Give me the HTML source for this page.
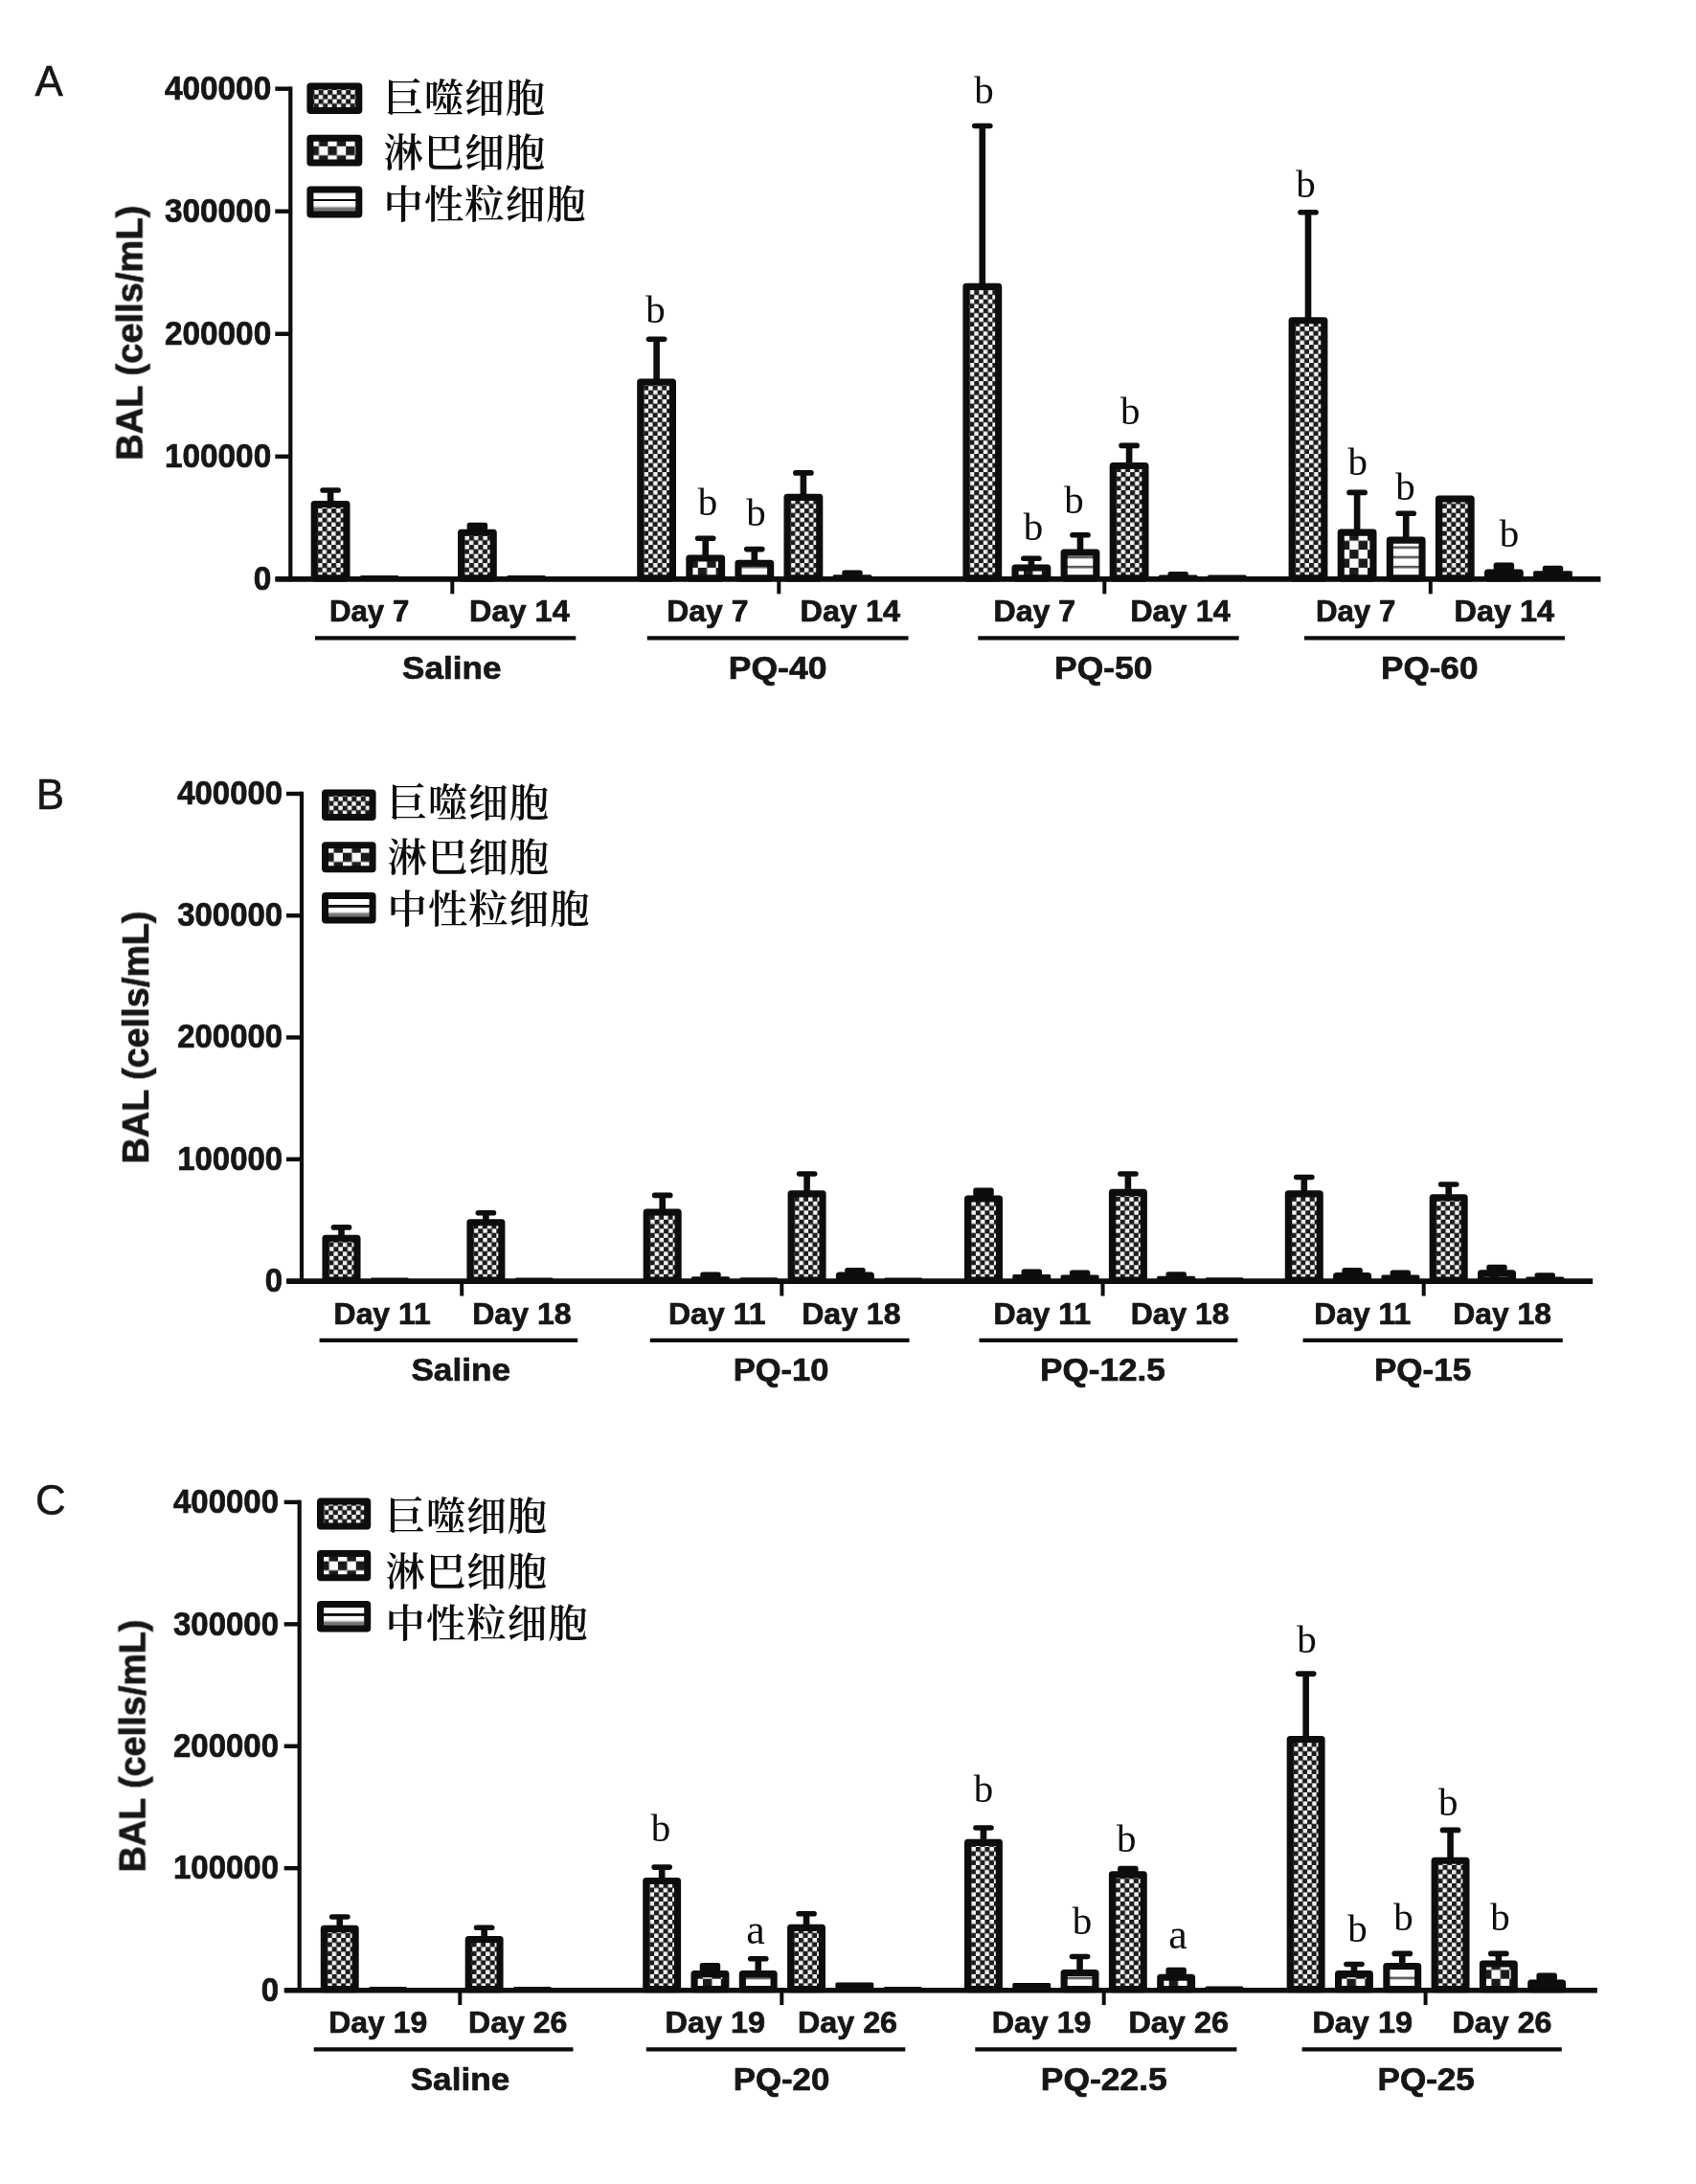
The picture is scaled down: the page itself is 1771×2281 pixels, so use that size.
<!DOCTYPE html>
<html lang="zh">
<head>
<meta charset="utf-8">
<title>BAL cell counts</title>
<style>
html,body{margin:0;padding:0;background:#fff;}
body{width:1771px;height:2281px;overflow:hidden;}
svg{display:block;}
text{white-space:pre;}
</style>
</head>
<body>
<svg width="1771" height="2281" viewBox="0 0 1771 2281">
<defs>
<filter id="soft2" x="0" y="0" width="1771" height="2281" filterUnits="userSpaceOnUse"><feGaussianBlur stdDeviation="0.35"/></filter>
<filter id="soft" x="0" y="0" width="1771" height="2281" filterUnits="userSpaceOnUse"><feGaussianBlur stdDeviation="0.75"/></filter>
<pattern id="pM" patternUnits="userSpaceOnUse" width="9.5" height="9.5" x="2.4" y="2.3">
<rect width="9.5" height="9.5" fill="#f2f2f2"/><rect x="-0.3" y="-0.3" width="5.35" height="5.35" fill="#1b1b1b"/><rect x="4.45" y="4.45" width="5.35" height="5.35" fill="#1b1b1b"/><rect x="9.2" y="9.2" width="0.3" height="0.3" fill="#1b1b1b"/>
</pattern>
<pattern id="pL" patternUnits="userSpaceOnUse" width="18.8" height="18.8" x="12.5" y="6.9">
<rect width="18.8" height="18.8" fill="#fbfbfb"/><rect width="9.4" height="9.4" fill="#1b1b1b"/><rect x="9.4" y="9.4" width="9.4" height="9.4" fill="#1b1b1b"/>
</pattern>
<pattern id="pMs" patternUnits="userSpaceOnUse" width="9.5" height="9.5" x="2.8" y="3.6">
<rect width="9.5" height="9.5" fill="#f2f2f2"/><rect x="-0.3" y="-0.3" width="5.35" height="5.35" fill="#1b1b1b"/><rect x="4.45" y="4.45" width="5.35" height="5.35" fill="#1b1b1b"/><rect x="9.2" y="9.2" width="0.3" height="0.3" fill="#1b1b1b"/>
</pattern>
<pattern id="pLs" patternUnits="userSpaceOnUse" width="18.8" height="18.8" x="3.2" y="17">
<rect width="18.8" height="18.8" fill="#fbfbfb"/><rect width="9.4" height="9.4" fill="#1b1b1b"/><rect x="9.4" y="9.4" width="9.4" height="9.4" fill="#1b1b1b"/>
</pattern>
<pattern id="pN" patternUnits="userSpaceOnUse" width="10" height="10.15" y="6.3">
<rect width="10" height="10.15" fill="#fcfcfc"/><rect y="0" width="10" height="2.6" fill="#5a5a5a"/>
</pattern>
<linearGradient id="lgN" x1="0" y1="0" x2="0" y2="1">
<stop offset="0" stop-color="#fff"/><stop offset="0.375" stop-color="#fff"/><stop offset="0.38" stop-color="#111"/><stop offset="0.47" stop-color="#111"/>
<stop offset="0.475" stop-color="#fff"/><stop offset="0.65" stop-color="#fdfdfd"/><stop offset="0.76" stop-color="#6e6e6e"/><stop offset="0.87" stop-color="#808080"/><stop offset="1" stop-color="#808080"/>
</linearGradient>
</defs>
<rect width="1771" height="2281" fill="#fff"/>
<g filter="url(#soft)">
<g>
<text x="51.15" y="99.6" font-family='"Liberation Sans", Arial, sans-serif' font-size="44" font-weight="normal" fill="#141414" text-anchor="middle" stroke="#141414" stroke-width="0.5">A</text>
<text transform="translate(148.6,480.8) rotate(-90)" font-family='"Liberation Sans", Arial, sans-serif' font-size="38.5" font-weight="bold" fill="#141414" stroke="#141414" stroke-width="0.7" textLength="266.2" lengthAdjust="spacingAndGlyphs">BAL (cells/mL)</text>
<text x="171.9" y="104" font-family='"Liberation Sans", Arial, sans-serif' font-size="34.5" font-weight="bold" fill="#141414" text-anchor="start" stroke="#141414" stroke-width="0.7" stroke-linejoin="round" textLength="111.3" lengthAdjust="spacingAndGlyphs">400000</text>
<line x1="287.3" y1="92.7" x2="303.3" y2="92.7" stroke="#0d0d0d" stroke-width="4.4"/>
<text x="171.9" y="232.02" font-family='"Liberation Sans", Arial, sans-serif' font-size="34.5" font-weight="bold" fill="#141414" text-anchor="start" stroke="#141414" stroke-width="0.7" stroke-linejoin="round" textLength="111.3" lengthAdjust="spacingAndGlyphs">300000</text>
<line x1="287.3" y1="220.72" x2="303.3" y2="220.72" stroke="#0d0d0d" stroke-width="4.4"/>
<text x="171.9" y="360.05" font-family='"Liberation Sans", Arial, sans-serif' font-size="34.5" font-weight="bold" fill="#141414" text-anchor="start" stroke="#141414" stroke-width="0.7" stroke-linejoin="round" textLength="111.3" lengthAdjust="spacingAndGlyphs">200000</text>
<line x1="287.3" y1="348.75" x2="303.3" y2="348.75" stroke="#0d0d0d" stroke-width="4.4"/>
<text x="171.9" y="488.07" font-family='"Liberation Sans", Arial, sans-serif' font-size="34.5" font-weight="bold" fill="#141414" text-anchor="start" stroke="#141414" stroke-width="0.7" stroke-linejoin="round" textLength="111.3" lengthAdjust="spacingAndGlyphs">100000</text>
<line x1="287.3" y1="476.77" x2="303.3" y2="476.77" stroke="#0d0d0d" stroke-width="4.4"/>
<text x="264.65" y="616.1" font-family='"Liberation Sans", Arial, sans-serif' font-size="34.5" font-weight="bold" fill="#141414" text-anchor="start" stroke="#141414" stroke-width="0.7" stroke-linejoin="round" textLength="18.55" lengthAdjust="spacingAndGlyphs">0</text>
<line x1="287.3" y1="604.8" x2="303.3" y2="604.8" stroke="#0d0d0d" stroke-width="4.4"/>
<g transform="translate(324.7,604.8)">
<line x1="20.4" y1="-92.8" x2="20.4" y2="-79.8" stroke="#0d0d0d" stroke-width="6.6"/>
<line x1="12.35" y1="-92.8" x2="28.45" y2="-92.8" stroke="#0d0d0d" stroke-width="5.6" stroke-linecap="round"/>
<rect x="3.55" y="-78.25" width="33.7" height="77.3" fill="url(#pM)" stroke="#0d0d0d" stroke-width="7.1" stroke-linejoin="round"/>
</g>
<g transform="translate(375.8,604.8)">
<rect x="0" y="-3.8" width="40.8" height="5.8" rx="1.5" fill="#0d0d0d"/>
</g>
<g transform="translate(478,604.8)">
<rect x="9.65" y="-59.1" width="21.5" height="8.5" rx="2.6" fill="#0d0d0d"/>
<rect x="3.55" y="-48.55" width="33.7" height="47.6" fill="url(#pM)" stroke="#0d0d0d" stroke-width="7.1" stroke-linejoin="round"/>
</g>
<g transform="translate(529.1,604.8)">
<rect x="0" y="-3.8" width="40.8" height="5.8" rx="1.5" fill="#0d0d0d"/>
</g>
<g transform="translate(665.2,604.8)">
<line x1="20.4" y1="-250.6" x2="20.4" y2="-207.3" stroke="#0d0d0d" stroke-width="6.6"/>
<line x1="12.35" y1="-250.6" x2="28.45" y2="-250.6" stroke="#0d0d0d" stroke-width="5.6" stroke-linecap="round"/>
<rect x="3.55" y="-205.75" width="33.7" height="204.8" fill="url(#pM)" stroke="#0d0d0d" stroke-width="7.1" stroke-linejoin="round"/>
</g>
<g transform="translate(716.3,604.8)">
<line x1="20.4" y1="-42.5" x2="20.4" y2="-23.3" stroke="#0d0d0d" stroke-width="6.6"/>
<line x1="12.35" y1="-42.5" x2="28.45" y2="-42.5" stroke="#0d0d0d" stroke-width="5.6" stroke-linecap="round"/>
<rect x="3.55" y="-21.75" width="33.7" height="20.8" fill="url(#pL)" stroke="#0d0d0d" stroke-width="7.1" stroke-linejoin="round"/>
</g>
<g transform="translate(767.4,604.8)">
<line x1="20.4" y1="-31.2" x2="20.4" y2="-18.1" stroke="#0d0d0d" stroke-width="6.6"/>
<line x1="12.35" y1="-31.2" x2="28.45" y2="-31.2" stroke="#0d0d0d" stroke-width="5.6" stroke-linecap="round"/>
<rect x="3.55" y="-16.55" width="33.7" height="15.6" fill="url(#pN)" stroke="#0d0d0d" stroke-width="7.1" stroke-linejoin="round"/>
</g>
<g transform="translate(818.5,604.8)">
<line x1="20.4" y1="-110.9" x2="20.4" y2="-87" stroke="#0d0d0d" stroke-width="6.6"/>
<line x1="12.35" y1="-110.9" x2="28.45" y2="-110.9" stroke="#0d0d0d" stroke-width="5.6" stroke-linecap="round"/>
<rect x="3.55" y="-85.45" width="33.7" height="84.5" fill="url(#pM)" stroke="#0d0d0d" stroke-width="7.1" stroke-linejoin="round"/>
</g>
<g transform="translate(869.6,604.8)">
<rect x="9.65" y="-9.4" width="21.5" height="6.3" rx="2.6" fill="#0d0d0d"/>
<rect x="0" y="-4.6" width="40.8" height="6.6" rx="1.5" fill="#0d0d0d"/>
</g>
<g transform="translate(1005.4,604.8)">
<line x1="20.4" y1="-473.3" x2="20.4" y2="-307" stroke="#0d0d0d" stroke-width="6.6"/>
<line x1="12.35" y1="-473.3" x2="28.45" y2="-473.3" stroke="#0d0d0d" stroke-width="5.6" stroke-linecap="round"/>
<rect x="3.55" y="-305.45" width="33.7" height="304.5" fill="url(#pM)" stroke="#0d0d0d" stroke-width="7.1" stroke-linejoin="round"/>
</g>
<g transform="translate(1056.5,604.8)">
<line x1="20.4" y1="-21.5" x2="20.4" y2="-13.4" stroke="#0d0d0d" stroke-width="6.6"/>
<line x1="12.35" y1="-21.5" x2="28.45" y2="-21.5" stroke="#0d0d0d" stroke-width="5.6" stroke-linecap="round"/>
<rect x="3.55" y="-11.85" width="33.7" height="10.9" fill="url(#pL)" stroke="#0d0d0d" stroke-width="7.1" stroke-linejoin="round"/>
</g>
<g transform="translate(1107.6,604.8)">
<line x1="20.4" y1="-46" x2="20.4" y2="-29.4" stroke="#0d0d0d" stroke-width="6.6"/>
<line x1="12.35" y1="-46" x2="28.45" y2="-46" stroke="#0d0d0d" stroke-width="5.6" stroke-linecap="round"/>
<rect x="3.55" y="-27.85" width="33.7" height="26.9" fill="url(#pN)" stroke="#0d0d0d" stroke-width="7.1" stroke-linejoin="round"/>
</g>
<g transform="translate(1158.7,604.8)">
<line x1="20.4" y1="-139.4" x2="20.4" y2="-119.8" stroke="#0d0d0d" stroke-width="6.6"/>
<line x1="12.35" y1="-139.4" x2="28.45" y2="-139.4" stroke="#0d0d0d" stroke-width="5.6" stroke-linecap="round"/>
<rect x="3.55" y="-118.25" width="33.7" height="117.3" fill="url(#pM)" stroke="#0d0d0d" stroke-width="7.1" stroke-linejoin="round"/>
</g>
<g transform="translate(1209.8,604.8)">
<rect x="9.65" y="-7.8" width="21.5" height="5.1" rx="2.6" fill="#0d0d0d"/>
<rect x="0" y="-4.2" width="40.8" height="6.2" rx="1.5" fill="#0d0d0d"/>
</g>
<g transform="translate(1260.9,604.8)">
<rect x="0" y="-4.2" width="40.8" height="6.2" rx="1.5" fill="#0d0d0d"/>
</g>
<g transform="translate(1345.6,604.8)">
<line x1="20.4" y1="-383" x2="20.4" y2="-271.6" stroke="#0d0d0d" stroke-width="6.6"/>
<line x1="12.35" y1="-383" x2="28.45" y2="-383" stroke="#0d0d0d" stroke-width="5.6" stroke-linecap="round"/>
<rect x="3.55" y="-270.05" width="33.7" height="269.1" fill="url(#pM)" stroke="#0d0d0d" stroke-width="7.1" stroke-linejoin="round"/>
</g>
<g transform="translate(1396.7,604.8)">
<line x1="20.4" y1="-90.4" x2="20.4" y2="-50.2" stroke="#0d0d0d" stroke-width="6.6"/>
<line x1="12.35" y1="-90.4" x2="28.45" y2="-90.4" stroke="#0d0d0d" stroke-width="5.6" stroke-linecap="round"/>
<rect x="3.55" y="-48.65" width="33.7" height="47.7" fill="url(#pL)" stroke="#0d0d0d" stroke-width="7.1" stroke-linejoin="round"/>
</g>
<g transform="translate(1447.8,604.8)">
<line x1="20.4" y1="-68.5" x2="20.4" y2="-42.2" stroke="#0d0d0d" stroke-width="6.6"/>
<line x1="12.35" y1="-68.5" x2="28.45" y2="-68.5" stroke="#0d0d0d" stroke-width="5.6" stroke-linecap="round"/>
<rect x="3.55" y="-40.65" width="33.7" height="39.7" fill="url(#pN)" stroke="#0d0d0d" stroke-width="7.1" stroke-linejoin="round"/>
</g>
<g transform="translate(1498.9,604.8)">
<rect x="3.55" y="-83.75" width="33.7" height="82.8" fill="url(#pM)" stroke="#0d0d0d" stroke-width="7.1" stroke-linejoin="round"/>
</g>
<g transform="translate(1550,604.8)">
<rect x="9.65" y="-17.2" width="21.5" height="8.5" rx="2.6" fill="#0d0d0d"/>
<rect x="3.55" y="-6.65" width="33.7" height="5.7" fill="url(#pL)" stroke="#0d0d0d" stroke-width="7.1" stroke-linejoin="round"/>
</g>
<g transform="translate(1601.1,604.8)">
<rect x="9.65" y="-14" width="21.5" height="6.9" rx="2.6" fill="#0d0d0d"/>
<rect x="0" y="-8.6" width="40.8" height="10.6" rx="1.5" fill="#0d0d0d"/>
</g>
<line x1="303.3" y1="90.5" x2="303.3" y2="607.3" stroke="#0d0d0d" stroke-width="4.2"/>
<line x1="287.7" y1="604.9" x2="1671.4" y2="604.9" stroke="#0d0d0d" stroke-width="5.6"/>
<line x1="472.3" y1="604.8" x2="472.3" y2="620.3" stroke="#0d0d0d" stroke-width="4"/>
<line x1="813.3" y1="604.8" x2="813.3" y2="620.3" stroke="#0d0d0d" stroke-width="4"/>
<line x1="1153.3" y1="604.8" x2="1153.3" y2="620.3" stroke="#0d0d0d" stroke-width="4"/>
<line x1="1493.8" y1="604.8" x2="1493.8" y2="620.3" stroke="#0d0d0d" stroke-width="4"/>
<text x="343.9" y="649" font-family='"Liberation Sans", Arial, sans-serif' font-size="31" font-weight="bold" fill="#141414" text-anchor="start" stroke="#141414" stroke-width="0.7" stroke-linejoin="round" textLength="83.4" lengthAdjust="spacingAndGlyphs">Day 7</text>
<text x="490.1" y="649" font-family='"Liberation Sans", Arial, sans-serif' font-size="31" font-weight="bold" fill="#141414" text-anchor="start" stroke="#141414" stroke-width="0.7" stroke-linejoin="round" textLength="104.6" lengthAdjust="spacingAndGlyphs">Day 14</text>
<line x1="329" y1="666.3" x2="601.3" y2="666.3" stroke="#0d0d0d" stroke-width="4.2"/>
<text x="420.1" y="709.2" font-family='"Liberation Sans", Arial, sans-serif' font-size="34" font-weight="bold" fill="#141414" text-anchor="start" stroke="#141414" stroke-width="0.7" stroke-linejoin="round" textLength="103.4" lengthAdjust="spacingAndGlyphs">Saline</text>
<text x="696.3" y="649" font-family='"Liberation Sans", Arial, sans-serif' font-size="31" font-weight="bold" fill="#141414" text-anchor="start" stroke="#141414" stroke-width="0.7" stroke-linejoin="round" textLength="85.2" lengthAdjust="spacingAndGlyphs">Day 7</text>
<text x="835.5" y="649" font-family='"Liberation Sans", Arial, sans-serif' font-size="31" font-weight="bold" fill="#141414" text-anchor="start" stroke="#141414" stroke-width="0.7" stroke-linejoin="round" textLength="104.5" lengthAdjust="spacingAndGlyphs">Day 14</text>
<line x1="675.8" y1="666.3" x2="948.5" y2="666.3" stroke="#0d0d0d" stroke-width="4.2"/>
<text x="760.8" y="709.2" font-family='"Liberation Sans", Arial, sans-serif' font-size="34" font-weight="bold" fill="#141414" text-anchor="start" stroke="#141414" stroke-width="0.7" stroke-linejoin="round" textLength="102.6" lengthAdjust="spacingAndGlyphs">PQ-40</text>
<text x="1037.5" y="649" font-family='"Liberation Sans", Arial, sans-serif' font-size="31" font-weight="bold" fill="#141414" text-anchor="start" stroke="#141414" stroke-width="0.7" stroke-linejoin="round" textLength="85.7" lengthAdjust="spacingAndGlyphs">Day 7</text>
<text x="1180.2" y="649" font-family='"Liberation Sans", Arial, sans-serif' font-size="31" font-weight="bold" fill="#141414" text-anchor="start" stroke="#141414" stroke-width="0.7" stroke-linejoin="round" textLength="104.5" lengthAdjust="spacingAndGlyphs">Day 14</text>
<line x1="1021.3" y1="666.3" x2="1293.7" y2="666.3" stroke="#0d0d0d" stroke-width="4.2"/>
<text x="1101" y="709.2" font-family='"Liberation Sans", Arial, sans-serif' font-size="34" font-weight="bold" fill="#141414" text-anchor="start" stroke="#141414" stroke-width="0.7" stroke-linejoin="round" textLength="102.5" lengthAdjust="spacingAndGlyphs">PQ-50</text>
<text x="1373.9" y="649" font-family='"Liberation Sans", Arial, sans-serif' font-size="31" font-weight="bold" fill="#141414" text-anchor="start" stroke="#141414" stroke-width="0.7" stroke-linejoin="round" textLength="83.4" lengthAdjust="spacingAndGlyphs">Day 7</text>
<text x="1518.5" y="649" font-family='"Liberation Sans", Arial, sans-serif' font-size="31" font-weight="bold" fill="#141414" text-anchor="start" stroke="#141414" stroke-width="0.7" stroke-linejoin="round" textLength="104.6" lengthAdjust="spacingAndGlyphs">Day 14</text>
<line x1="1362" y1="666.3" x2="1634" y2="666.3" stroke="#0d0d0d" stroke-width="4.2"/>
<text x="1442" y="709.2" font-family='"Liberation Sans", Arial, sans-serif' font-size="34" font-weight="bold" fill="#141414" text-anchor="start" stroke="#141414" stroke-width="0.7" stroke-linejoin="round" textLength="101.4" lengthAdjust="spacingAndGlyphs">PQ-60</text>
<g transform="translate(320.4,119)">
<rect x="3.5" y="-28.9" width="50.9" height="25.4" rx="0.5" fill="url(#pMs)" stroke="#0d0d0d" stroke-width="7.0" stroke-linejoin="round"/>
</g>
<g transform="translate(320.4,173.4)">
<rect x="3.5" y="-29.1" width="50.9" height="25.6" rx="0.5" fill="url(#pLs)" stroke="#0d0d0d" stroke-width="7.0" stroke-linejoin="round"/>
</g>
<g transform="translate(320.4,227.5)">
<rect x="3.5" y="-29.5" width="50.9" height="26" rx="0.5" fill="url(#lgN)" stroke="#0d0d0d" stroke-width="7.0" stroke-linejoin="round"/>
</g>
</g>
<g>
<text x="52.5" y="845" font-family='"Liberation Sans", Arial, sans-serif' font-size="44" font-weight="normal" fill="#141414" text-anchor="middle" stroke="#141414" stroke-width="0.5">B</text>
<text transform="translate(155,1215.4) rotate(-90)" font-family='"Liberation Sans", Arial, sans-serif' font-size="38.5" font-weight="bold" fill="#141414" stroke="#141414" stroke-width="0.7" textLength="263.9" lengthAdjust="spacingAndGlyphs">BAL (cells/mL)</text>
<text x="185.3" y="839.8" font-family='"Liberation Sans", Arial, sans-serif' font-size="34.5" font-weight="bold" fill="#141414" text-anchor="start" stroke="#141414" stroke-width="0.7" stroke-linejoin="round" textLength="109.7" lengthAdjust="spacingAndGlyphs">400000</text>
<line x1="299" y1="829" x2="315" y2="829" stroke="#0d0d0d" stroke-width="4.4"/>
<text x="185.3" y="967.05" font-family='"Liberation Sans", Arial, sans-serif' font-size="34.5" font-weight="bold" fill="#141414" text-anchor="start" stroke="#141414" stroke-width="0.7" stroke-linejoin="round" textLength="109.7" lengthAdjust="spacingAndGlyphs">300000</text>
<line x1="299" y1="956.25" x2="315" y2="956.25" stroke="#0d0d0d" stroke-width="4.4"/>
<text x="185.3" y="1094.3" font-family='"Liberation Sans", Arial, sans-serif' font-size="34.5" font-weight="bold" fill="#141414" text-anchor="start" stroke="#141414" stroke-width="0.7" stroke-linejoin="round" textLength="109.7" lengthAdjust="spacingAndGlyphs">200000</text>
<line x1="299" y1="1083.5" x2="315" y2="1083.5" stroke="#0d0d0d" stroke-width="4.4"/>
<text x="185.3" y="1221.55" font-family='"Liberation Sans", Arial, sans-serif' font-size="34.5" font-weight="bold" fill="#141414" text-anchor="start" stroke="#141414" stroke-width="0.7" stroke-linejoin="round" textLength="109.7" lengthAdjust="spacingAndGlyphs">100000</text>
<line x1="299" y1="1210.75" x2="315" y2="1210.75" stroke="#0d0d0d" stroke-width="4.4"/>
<text x="276.72" y="1348.8" font-family='"Liberation Sans", Arial, sans-serif' font-size="34.5" font-weight="bold" fill="#141414" text-anchor="start" stroke="#141414" stroke-width="0.7" stroke-linejoin="round" textLength="18.28" lengthAdjust="spacingAndGlyphs">0</text>
<line x1="299" y1="1338" x2="315" y2="1338" stroke="#0d0d0d" stroke-width="4.4"/>
<g transform="translate(336.5,1338)">
<line x1="20" y1="-56.1" x2="20" y2="-46.3" stroke="#0d0d0d" stroke-width="6.6"/>
<line x1="11.95" y1="-56.1" x2="28.05" y2="-56.1" stroke="#0d0d0d" stroke-width="5.6" stroke-linecap="round"/>
<rect x="3.55" y="-44.75" width="32.9" height="43.8" fill="url(#pM)" stroke="#0d0d0d" stroke-width="7.1" stroke-linejoin="round"/>
</g>
<g transform="translate(386.8,1338)">
<rect x="0" y="-3.6" width="40" height="5.6" rx="1.5" fill="#0d0d0d"/>
</g>
<g transform="translate(487.4,1338)">
<line x1="20" y1="-71.2" x2="20" y2="-62.8" stroke="#0d0d0d" stroke-width="6.6"/>
<line x1="11.95" y1="-71.2" x2="28.05" y2="-71.2" stroke="#0d0d0d" stroke-width="5.6" stroke-linecap="round"/>
<rect x="3.55" y="-61.25" width="32.9" height="60.3" fill="url(#pM)" stroke="#0d0d0d" stroke-width="7.1" stroke-linejoin="round"/>
</g>
<g transform="translate(537.7,1338)">
<rect x="0" y="-3.6" width="40" height="5.6" rx="1.5" fill="#0d0d0d"/>
</g>
<g transform="translate(671.7,1338)">
<line x1="20" y1="-89.6" x2="20" y2="-73.5" stroke="#0d0d0d" stroke-width="6.6"/>
<line x1="11.95" y1="-89.6" x2="28.05" y2="-89.6" stroke="#0d0d0d" stroke-width="5.6" stroke-linecap="round"/>
<rect x="3.55" y="-71.95" width="32.9" height="71" fill="url(#pM)" stroke="#0d0d0d" stroke-width="7.1" stroke-linejoin="round"/>
</g>
<g transform="translate(722,1338)">
<rect x="9.25" y="-9.6" width="21.5" height="6.3" rx="2.6" fill="#0d0d0d"/>
<rect x="0" y="-4.8" width="40" height="6.8" rx="1.5" fill="#0d0d0d"/>
</g>
<g transform="translate(772.3,1338)">
<rect x="0" y="-3.8" width="40" height="5.8" rx="1.5" fill="#0d0d0d"/>
</g>
<g transform="translate(822.6,1338)">
<line x1="20" y1="-112" x2="20" y2="-92.8" stroke="#0d0d0d" stroke-width="6.6"/>
<line x1="11.95" y1="-112" x2="28.05" y2="-112" stroke="#0d0d0d" stroke-width="5.6" stroke-linecap="round"/>
<rect x="3.55" y="-91.25" width="32.9" height="90.3" fill="url(#pM)" stroke="#0d0d0d" stroke-width="7.1" stroke-linejoin="round"/>
</g>
<g transform="translate(872.9,1338)">
<rect x="9.25" y="-14.1" width="21.5" height="6.2" rx="2.6" fill="#0d0d0d"/>
<rect x="3.55" y="-5.85" width="32.9" height="4.9" fill="url(#pL)" stroke="#0d0d0d" stroke-width="7.1" stroke-linejoin="round"/>
</g>
<g transform="translate(923.2,1338)">
<rect x="0" y="-3.6" width="40" height="5.6" rx="1.5" fill="#0d0d0d"/>
</g>
<g transform="translate(1007,1338)">
<rect x="9.25" y="-97.6" width="21.5" height="9.5" rx="2.6" fill="#0d0d0d"/>
<rect x="3.55" y="-86.05" width="32.9" height="85.1" fill="url(#pM)" stroke="#0d0d0d" stroke-width="7.1" stroke-linejoin="round"/>
</g>
<g transform="translate(1057.3,1338)">
<rect x="9.25" y="-12.4" width="21.5" height="6.9" rx="2.6" fill="#0d0d0d"/>
<rect x="0" y="-7" width="40" height="9" rx="1.5" fill="#0d0d0d"/>
</g>
<g transform="translate(1107.6,1338)">
<rect x="9.25" y="-11.6" width="21.5" height="6.5" rx="2.6" fill="#0d0d0d"/>
<rect x="0" y="-6.6" width="40" height="8.6" rx="1.5" fill="#0d0d0d"/>
</g>
<g transform="translate(1157.9,1338)">
<line x1="20" y1="-112" x2="20" y2="-94.2" stroke="#0d0d0d" stroke-width="6.6"/>
<line x1="11.95" y1="-112" x2="28.05" y2="-112" stroke="#0d0d0d" stroke-width="5.6" stroke-linecap="round"/>
<rect x="3.55" y="-92.65" width="32.9" height="91.7" fill="url(#pM)" stroke="#0d0d0d" stroke-width="7.1" stroke-linejoin="round"/>
</g>
<g transform="translate(1208.2,1338)">
<rect x="9.25" y="-9.8" width="21.5" height="6.1" rx="2.6" fill="#0d0d0d"/>
<rect x="0" y="-5.2" width="40" height="7.2" rx="1.5" fill="#0d0d0d"/>
</g>
<g transform="translate(1258.5,1338)">
<rect x="0" y="-3.8" width="40" height="5.8" rx="1.5" fill="#0d0d0d"/>
</g>
<g transform="translate(1341.8,1338)">
<line x1="20" y1="-108.5" x2="20" y2="-92.8" stroke="#0d0d0d" stroke-width="6.6"/>
<line x1="11.95" y1="-108.5" x2="28.05" y2="-108.5" stroke="#0d0d0d" stroke-width="5.6" stroke-linecap="round"/>
<rect x="3.55" y="-91.25" width="32.9" height="90.3" fill="url(#pM)" stroke="#0d0d0d" stroke-width="7.1" stroke-linejoin="round"/>
</g>
<g transform="translate(1392.1,1338)">
<rect x="9.25" y="-14.1" width="21.5" height="6.6" rx="2.6" fill="#0d0d0d"/>
<rect x="3.55" y="-5.45" width="32.9" height="4.5" fill="url(#pL)" stroke="#0d0d0d" stroke-width="7.1" stroke-linejoin="round"/>
</g>
<g transform="translate(1442.4,1338)">
<rect x="9.25" y="-11.6" width="21.5" height="6.5" rx="2.6" fill="#0d0d0d"/>
<rect x="0" y="-6.6" width="40" height="8.6" rx="1.5" fill="#0d0d0d"/>
</g>
<g transform="translate(1492.7,1338)">
<line x1="20" y1="-101" x2="20" y2="-88.8" stroke="#0d0d0d" stroke-width="6.6"/>
<line x1="11.95" y1="-101" x2="28.05" y2="-101" stroke="#0d0d0d" stroke-width="5.6" stroke-linecap="round"/>
<rect x="3.55" y="-87.25" width="32.9" height="86.3" fill="url(#pM)" stroke="#0d0d0d" stroke-width="7.1" stroke-linejoin="round"/>
</g>
<g transform="translate(1543,1338)">
<rect x="9.25" y="-17.2" width="21.5" height="6.9" rx="2.6" fill="#0d0d0d"/>
<rect x="3.55" y="-8.25" width="32.9" height="7.3" fill="url(#pL)" stroke="#0d0d0d" stroke-width="7.1" stroke-linejoin="round"/>
</g>
<g transform="translate(1593.3,1338)">
<rect x="9.25" y="-8.8" width="21.5" height="5.7" rx="2.6" fill="#0d0d0d"/>
<rect x="0" y="-4.6" width="40" height="6.6" rx="1.5" fill="#0d0d0d"/>
</g>
<line x1="315" y1="826.8" x2="315" y2="1340.5" stroke="#0d0d0d" stroke-width="4.2"/>
<line x1="299.4" y1="1338.1" x2="1663.2" y2="1338.1" stroke="#0d0d0d" stroke-width="5.6"/>
<line x1="482.2" y1="1338" x2="482.2" y2="1353.5" stroke="#0d0d0d" stroke-width="4"/>
<line x1="816.3" y1="1338" x2="816.3" y2="1353.5" stroke="#0d0d0d" stroke-width="4"/>
<line x1="1151.6" y1="1338" x2="1151.6" y2="1353.5" stroke="#0d0d0d" stroke-width="4"/>
<line x1="1486.7" y1="1338" x2="1486.7" y2="1353.5" stroke="#0d0d0d" stroke-width="4"/>
<text x="348.6" y="1382.6" font-family='"Liberation Sans", Arial, sans-serif' font-size="31" font-weight="bold" fill="#141414" text-anchor="start" stroke="#141414" stroke-width="0.7" stroke-linejoin="round" textLength="101.1" lengthAdjust="spacingAndGlyphs">Day 11</text>
<text x="493.2" y="1382.6" font-family='"Liberation Sans", Arial, sans-serif' font-size="31" font-weight="bold" fill="#141414" text-anchor="start" stroke="#141414" stroke-width="0.7" stroke-linejoin="round" textLength="103.4" lengthAdjust="spacingAndGlyphs">Day 18</text>
<line x1="333.6" y1="1399.8" x2="603.2" y2="1399.8" stroke="#0d0d0d" stroke-width="4.2"/>
<text x="429.4" y="1442.1" font-family='"Liberation Sans", Arial, sans-serif' font-size="34" font-weight="bold" fill="#141414" text-anchor="start" stroke="#141414" stroke-width="0.7" stroke-linejoin="round" textLength="103.6" lengthAdjust="spacingAndGlyphs">Saline</text>
<text x="698" y="1382.6" font-family='"Liberation Sans", Arial, sans-serif' font-size="31" font-weight="bold" fill="#141414" text-anchor="start" stroke="#141414" stroke-width="0.7" stroke-linejoin="round" textLength="101.5" lengthAdjust="spacingAndGlyphs">Day 11</text>
<text x="837.2" y="1382.6" font-family='"Liberation Sans", Arial, sans-serif' font-size="31" font-weight="bold" fill="#141414" text-anchor="start" stroke="#141414" stroke-width="0.7" stroke-linejoin="round" textLength="103.3" lengthAdjust="spacingAndGlyphs">Day 18</text>
<line x1="678.8" y1="1399.8" x2="949.5" y2="1399.8" stroke="#0d0d0d" stroke-width="4.2"/>
<text x="765.7" y="1442.1" font-family='"Liberation Sans", Arial, sans-serif' font-size="34" font-weight="bold" fill="#141414" text-anchor="start" stroke="#141414" stroke-width="0.7" stroke-linejoin="round" textLength="99.8" lengthAdjust="spacingAndGlyphs">PQ-10</text>
<text x="1037.5" y="1382.6" font-family='"Liberation Sans", Arial, sans-serif' font-size="31" font-weight="bold" fill="#141414" text-anchor="start" stroke="#141414" stroke-width="0.7" stroke-linejoin="round" textLength="101.6" lengthAdjust="spacingAndGlyphs">Day 11</text>
<text x="1180.7" y="1382.6" font-family='"Liberation Sans", Arial, sans-serif' font-size="31" font-weight="bold" fill="#141414" text-anchor="start" stroke="#141414" stroke-width="0.7" stroke-linejoin="round" textLength="102.7" lengthAdjust="spacingAndGlyphs">Day 18</text>
<line x1="1022.5" y1="1399.8" x2="1292.4" y2="1399.8" stroke="#0d0d0d" stroke-width="4.2"/>
<text x="1086.1" y="1442.1" font-family='"Liberation Sans", Arial, sans-serif' font-size="34" font-weight="bold" fill="#141414" text-anchor="start" stroke="#141414" stroke-width="0.7" stroke-linejoin="round" textLength="130.8" lengthAdjust="spacingAndGlyphs">PQ-12.5</text>
<text x="1372.3" y="1382.6" font-family='"Liberation Sans", Arial, sans-serif' font-size="31" font-weight="bold" fill="#141414" text-anchor="start" stroke="#141414" stroke-width="0.7" stroke-linejoin="round" textLength="101" lengthAdjust="spacingAndGlyphs">Day 11</text>
<text x="1517.3" y="1382.6" font-family='"Liberation Sans", Arial, sans-serif' font-size="31" font-weight="bold" fill="#141414" text-anchor="start" stroke="#141414" stroke-width="0.7" stroke-linejoin="round" textLength="102.7" lengthAdjust="spacingAndGlyphs">Day 18</text>
<line x1="1360.6" y1="1399.8" x2="1631.8" y2="1399.8" stroke="#0d0d0d" stroke-width="4.2"/>
<text x="1434.9" y="1442.1" font-family='"Liberation Sans", Arial, sans-serif' font-size="34" font-weight="bold" fill="#141414" text-anchor="start" stroke="#141414" stroke-width="0.7" stroke-linejoin="round" textLength="101.4" lengthAdjust="spacingAndGlyphs">PQ-15</text>
<g transform="translate(336,857)">
<rect x="3.5" y="-29" width="49.6" height="25.5" rx="0.5" fill="url(#pMs)" stroke="#0d0d0d" stroke-width="7.0" stroke-linejoin="round"/>
</g>
<g transform="translate(336,911.3)">
<rect x="3.5" y="-28.6" width="49.6" height="25.1" rx="0.5" fill="url(#pLs)" stroke="#0d0d0d" stroke-width="7.0" stroke-linejoin="round"/>
</g>
<g transform="translate(336,964.5)">
<rect x="3.5" y="-29" width="49.6" height="25.5" rx="0.5" fill="url(#lgN)" stroke="#0d0d0d" stroke-width="7.0" stroke-linejoin="round"/>
</g>
</g>
<g>
<text x="52.8" y="1581.6" font-family='"Liberation Sans", Arial, sans-serif' font-size="44" font-weight="normal" fill="#141414" text-anchor="middle" stroke="#141414" stroke-width="0.5">C</text>
<text transform="translate(151.6,1955.4) rotate(-90)" font-family='"Liberation Sans", Arial, sans-serif' font-size="38.5" font-weight="bold" fill="#141414" stroke="#141414" stroke-width="0.7" textLength="263.9" lengthAdjust="spacingAndGlyphs">BAL (cells/mL)</text>
<text x="181" y="1580.1" font-family='"Liberation Sans", Arial, sans-serif' font-size="34.5" font-weight="bold" fill="#141414" text-anchor="start" stroke="#141414" stroke-width="0.7" stroke-linejoin="round" textLength="110" lengthAdjust="spacingAndGlyphs">400000</text>
<line x1="296.7" y1="1568.9" x2="312.7" y2="1568.9" stroke="#0d0d0d" stroke-width="4.4"/>
<text x="181" y="1707.53" font-family='"Liberation Sans", Arial, sans-serif' font-size="34.5" font-weight="bold" fill="#141414" text-anchor="start" stroke="#141414" stroke-width="0.7" stroke-linejoin="round" textLength="110" lengthAdjust="spacingAndGlyphs">300000</text>
<line x1="296.7" y1="1696.33" x2="312.7" y2="1696.33" stroke="#0d0d0d" stroke-width="4.4"/>
<text x="181" y="1834.95" font-family='"Liberation Sans", Arial, sans-serif' font-size="34.5" font-weight="bold" fill="#141414" text-anchor="start" stroke="#141414" stroke-width="0.7" stroke-linejoin="round" textLength="110" lengthAdjust="spacingAndGlyphs">200000</text>
<line x1="296.7" y1="1823.75" x2="312.7" y2="1823.75" stroke="#0d0d0d" stroke-width="4.4"/>
<text x="181" y="1962.38" font-family='"Liberation Sans", Arial, sans-serif' font-size="34.5" font-weight="bold" fill="#141414" text-anchor="start" stroke="#141414" stroke-width="0.7" stroke-linejoin="round" textLength="110" lengthAdjust="spacingAndGlyphs">100000</text>
<line x1="296.7" y1="1951.17" x2="312.7" y2="1951.17" stroke="#0d0d0d" stroke-width="4.4"/>
<text x="272.67" y="2089.8" font-family='"Liberation Sans", Arial, sans-serif' font-size="34.5" font-weight="bold" fill="#141414" text-anchor="start" stroke="#141414" stroke-width="0.7" stroke-linejoin="round" textLength="18.33" lengthAdjust="spacingAndGlyphs">0</text>
<line x1="296.7" y1="2078.6" x2="312.7" y2="2078.6" stroke="#0d0d0d" stroke-width="4.4"/>
<g transform="translate(334.8,2078.6)">
<line x1="19.95" y1="-76.6" x2="19.95" y2="-65.8" stroke="#0d0d0d" stroke-width="6.6"/>
<line x1="11.9" y1="-76.6" x2="28" y2="-76.6" stroke="#0d0d0d" stroke-width="5.6" stroke-linecap="round"/>
<rect x="3.55" y="-64.25" width="32.8" height="63.3" fill="url(#pM)" stroke="#0d0d0d" stroke-width="7.1" stroke-linejoin="round"/>
</g>
<g transform="translate(385.1,2078.6)">
<rect x="0" y="-3.6" width="39.9" height="5.6" rx="1.5" fill="#0d0d0d"/>
</g>
<g transform="translate(485.7,2078.6)">
<line x1="19.95" y1="-65.4" x2="19.95" y2="-54.7" stroke="#0d0d0d" stroke-width="6.6"/>
<line x1="11.9" y1="-65.4" x2="28" y2="-65.4" stroke="#0d0d0d" stroke-width="5.6" stroke-linecap="round"/>
<rect x="3.55" y="-53.15" width="32.8" height="52.2" fill="url(#pM)" stroke="#0d0d0d" stroke-width="7.1" stroke-linejoin="round"/>
</g>
<g transform="translate(536,2078.6)">
<rect x="0" y="-3.6" width="39.9" height="5.6" rx="1.5" fill="#0d0d0d"/>
</g>
<g transform="translate(671.2,2078.6)">
<line x1="19.95" y1="-128.5" x2="19.95" y2="-115.6" stroke="#0d0d0d" stroke-width="6.6"/>
<line x1="11.9" y1="-128.5" x2="28" y2="-128.5" stroke="#0d0d0d" stroke-width="5.6" stroke-linecap="round"/>
<rect x="3.55" y="-114.05" width="32.8" height="113.1" fill="url(#pM)" stroke="#0d0d0d" stroke-width="7.1" stroke-linejoin="round"/>
</g>
<g transform="translate(721.5,2078.6)">
<rect x="9.2" y="-28.5" width="21.5" height="9.5" rx="2.6" fill="#0d0d0d"/>
<rect x="3.55" y="-16.95" width="32.8" height="16" fill="url(#pL)" stroke="#0d0d0d" stroke-width="7.1" stroke-linejoin="round"/>
</g>
<g transform="translate(771.8,2078.6)">
<line x1="19.95" y1="-32.8" x2="19.95" y2="-18.5" stroke="#0d0d0d" stroke-width="6.6"/>
<line x1="11.9" y1="-32.8" x2="28" y2="-32.8" stroke="#0d0d0d" stroke-width="5.6" stroke-linecap="round"/>
<rect x="3.55" y="-16.95" width="32.8" height="16" fill="url(#pN)" stroke="#0d0d0d" stroke-width="7.1" stroke-linejoin="round"/>
</g>
<g transform="translate(822.1,2078.6)">
<line x1="19.95" y1="-79.9" x2="19.95" y2="-66.8" stroke="#0d0d0d" stroke-width="6.6"/>
<line x1="11.9" y1="-79.9" x2="28" y2="-79.9" stroke="#0d0d0d" stroke-width="5.6" stroke-linecap="round"/>
<rect x="3.55" y="-65.25" width="32.8" height="64.3" fill="url(#pM)" stroke="#0d0d0d" stroke-width="7.1" stroke-linejoin="round"/>
</g>
<g transform="translate(872.4,2078.6)">
<rect x="0" y="-8.2" width="39.9" height="10.2" rx="1.5" fill="#0d0d0d"/>
</g>
<g transform="translate(922.7,2078.6)">
<rect x="0" y="-3.6" width="39.9" height="5.6" rx="1.5" fill="#0d0d0d"/>
</g>
<g transform="translate(1007,2078.6)">
<line x1="19.95" y1="-169.6" x2="19.95" y2="-155.8" stroke="#0d0d0d" stroke-width="6.6"/>
<line x1="11.9" y1="-169.6" x2="28" y2="-169.6" stroke="#0d0d0d" stroke-width="5.6" stroke-linecap="round"/>
<rect x="3.55" y="-154.25" width="32.8" height="153.3" fill="url(#pM)" stroke="#0d0d0d" stroke-width="7.1" stroke-linejoin="round"/>
</g>
<g transform="translate(1057.3,2078.6)">
<rect x="0" y="-7.6" width="39.9" height="9.6" rx="1.5" fill="#0d0d0d"/>
</g>
<g transform="translate(1107.6,2078.6)">
<line x1="19.95" y1="-35.1" x2="19.95" y2="-19.6" stroke="#0d0d0d" stroke-width="6.6"/>
<line x1="11.9" y1="-35.1" x2="28" y2="-35.1" stroke="#0d0d0d" stroke-width="5.6" stroke-linecap="round"/>
<rect x="3.55" y="-18.05" width="32.8" height="17.1" fill="url(#pN)" stroke="#0d0d0d" stroke-width="7.1" stroke-linejoin="round"/>
</g>
<g transform="translate(1157.9,2078.6)">
<rect x="9.2" y="-129.9" width="21.5" height="7.1" rx="2.6" fill="#0d0d0d"/>
<rect x="3.55" y="-120.75" width="32.8" height="119.8" fill="url(#pM)" stroke="#0d0d0d" stroke-width="7.1" stroke-linejoin="round"/>
</g>
<g transform="translate(1208.2,2078.6)">
<rect x="9.2" y="-23.8" width="21.5" height="8.4" rx="2.6" fill="#0d0d0d"/>
<rect x="3.55" y="-13.35" width="32.8" height="12.4" fill="url(#pL)" stroke="#0d0d0d" stroke-width="7.1" stroke-linejoin="round"/>
</g>
<g transform="translate(1258.5,2078.6)">
<rect x="0" y="-4.2" width="39.9" height="6.2" rx="1.5" fill="#0d0d0d"/>
</g>
<g transform="translate(1343.7,2078.6)">
<line x1="19.95" y1="-330.5" x2="19.95" y2="-263.6" stroke="#0d0d0d" stroke-width="6.6"/>
<line x1="11.9" y1="-330.5" x2="28" y2="-330.5" stroke="#0d0d0d" stroke-width="5.6" stroke-linecap="round"/>
<rect x="3.55" y="-262.05" width="32.8" height="261.1" fill="url(#pM)" stroke="#0d0d0d" stroke-width="7.1" stroke-linejoin="round"/>
</g>
<g transform="translate(1394,2078.6)">
<line x1="19.95" y1="-27.1" x2="19.95" y2="-18.5" stroke="#0d0d0d" stroke-width="6.6"/>
<line x1="11.9" y1="-27.1" x2="28" y2="-27.1" stroke="#0d0d0d" stroke-width="5.6" stroke-linecap="round"/>
<rect x="3.55" y="-16.95" width="32.8" height="16" fill="url(#pL)" stroke="#0d0d0d" stroke-width="7.1" stroke-linejoin="round"/>
</g>
<g transform="translate(1444.3,2078.6)">
<line x1="19.95" y1="-38.2" x2="19.95" y2="-26.7" stroke="#0d0d0d" stroke-width="6.6"/>
<line x1="11.9" y1="-38.2" x2="28" y2="-38.2" stroke="#0d0d0d" stroke-width="5.6" stroke-linecap="round"/>
<rect x="3.55" y="-25.15" width="32.8" height="24.2" fill="url(#pN)" stroke="#0d0d0d" stroke-width="7.1" stroke-linejoin="round"/>
</g>
<g transform="translate(1494.6,2078.6)">
<line x1="19.95" y1="-167.2" x2="19.95" y2="-136.9" stroke="#0d0d0d" stroke-width="6.6"/>
<line x1="11.9" y1="-167.2" x2="28" y2="-167.2" stroke="#0d0d0d" stroke-width="5.6" stroke-linecap="round"/>
<rect x="3.55" y="-135.35" width="32.8" height="134.4" fill="url(#pM)" stroke="#0d0d0d" stroke-width="7.1" stroke-linejoin="round"/>
</g>
<g transform="translate(1544.9,2078.6)">
<line x1="19.95" y1="-38.2" x2="19.95" y2="-29.1" stroke="#0d0d0d" stroke-width="6.6"/>
<line x1="11.9" y1="-38.2" x2="28" y2="-38.2" stroke="#0d0d0d" stroke-width="5.6" stroke-linecap="round"/>
<rect x="3.55" y="-27.55" width="32.8" height="26.6" fill="url(#pL)" stroke="#0d0d0d" stroke-width="7.1" stroke-linejoin="round"/>
</g>
<g transform="translate(1595.2,2078.6)">
<rect x="9.2" y="-18.1" width="21.5" height="8.5" rx="2.6" fill="#0d0d0d"/>
<rect x="3.55" y="-7.55" width="32.8" height="6.6" fill="url(#pN)" stroke="#0d0d0d" stroke-width="7.1" stroke-linejoin="round"/>
</g>
<line x1="312.7" y1="1566.7" x2="312.7" y2="2081.1" stroke="#0d0d0d" stroke-width="4.2"/>
<line x1="297.1" y1="2078.7" x2="1667.9" y2="2078.7" stroke="#0d0d0d" stroke-width="5.6"/>
<line x1="480.3" y1="2078.6" x2="480.3" y2="2094.1" stroke="#0d0d0d" stroke-width="4"/>
<line x1="816.3" y1="2078.6" x2="816.3" y2="2094.1" stroke="#0d0d0d" stroke-width="4"/>
<line x1="1152.7" y1="2078.6" x2="1152.7" y2="2094.1" stroke="#0d0d0d" stroke-width="4"/>
<line x1="1488.6" y1="2078.6" x2="1488.6" y2="2094.1" stroke="#0d0d0d" stroke-width="4"/>
<text x="343.2" y="2123.4" font-family='"Liberation Sans", Arial, sans-serif' font-size="31" font-weight="bold" fill="#141414" text-anchor="start" stroke="#141414" stroke-width="0.7" stroke-linejoin="round" textLength="103" lengthAdjust="spacingAndGlyphs">Day 19</text>
<text x="489" y="2123.4" font-family='"Liberation Sans", Arial, sans-serif' font-size="31" font-weight="bold" fill="#141414" text-anchor="start" stroke="#141414" stroke-width="0.7" stroke-linejoin="round" textLength="103.4" lengthAdjust="spacingAndGlyphs">Day 26</text>
<line x1="327.7" y1="2140.3" x2="598.5" y2="2140.3" stroke="#0d0d0d" stroke-width="4.2"/>
<text x="428.7" y="2183.4" font-family='"Liberation Sans", Arial, sans-serif' font-size="34" font-weight="bold" fill="#141414" text-anchor="start" stroke="#141414" stroke-width="0.7" stroke-linejoin="round" textLength="103.5" lengthAdjust="spacingAndGlyphs">Saline</text>
<text x="694.5" y="2123.4" font-family='"Liberation Sans", Arial, sans-serif' font-size="31" font-weight="bold" fill="#141414" text-anchor="start" stroke="#141414" stroke-width="0.7" stroke-linejoin="round" textLength="104.6" lengthAdjust="spacingAndGlyphs">Day 19</text>
<text x="832.9" y="2123.4" font-family='"Liberation Sans", Arial, sans-serif' font-size="31" font-weight="bold" fill="#141414" text-anchor="start" stroke="#141414" stroke-width="0.7" stroke-linejoin="round" textLength="104.2" lengthAdjust="spacingAndGlyphs">Day 26</text>
<line x1="674.8" y1="2140.3" x2="945.3" y2="2140.3" stroke="#0d0d0d" stroke-width="4.2"/>
<text x="765.7" y="2183.4" font-family='"Liberation Sans", Arial, sans-serif' font-size="34" font-weight="bold" fill="#141414" text-anchor="start" stroke="#141414" stroke-width="0.7" stroke-linejoin="round" textLength="100.6" lengthAdjust="spacingAndGlyphs">PQ-20</text>
<text x="1035.7" y="2123.4" font-family='"Liberation Sans", Arial, sans-serif' font-size="31" font-weight="bold" fill="#141414" text-anchor="start" stroke="#141414" stroke-width="0.7" stroke-linejoin="round" textLength="103.8" lengthAdjust="spacingAndGlyphs">Day 19</text>
<text x="1178.4" y="2123.4" font-family='"Liberation Sans", Arial, sans-serif' font-size="31" font-weight="bold" fill="#141414" text-anchor="start" stroke="#141414" stroke-width="0.7" stroke-linejoin="round" textLength="104.6" lengthAdjust="spacingAndGlyphs">Day 26</text>
<line x1="1018.3" y1="2140.3" x2="1291.4" y2="2140.3" stroke="#0d0d0d" stroke-width="4.2"/>
<text x="1086.8" y="2183.4" font-family='"Liberation Sans", Arial, sans-serif' font-size="34" font-weight="bold" fill="#141414" text-anchor="start" stroke="#141414" stroke-width="0.7" stroke-linejoin="round" textLength="132" lengthAdjust="spacingAndGlyphs">PQ-22.5</text>
<text x="1370.4" y="2123.4" font-family='"Liberation Sans", Arial, sans-serif' font-size="31" font-weight="bold" fill="#141414" text-anchor="start" stroke="#141414" stroke-width="0.7" stroke-linejoin="round" textLength="104.6" lengthAdjust="spacingAndGlyphs">Day 19</text>
<text x="1516.6" y="2123.4" font-family='"Liberation Sans", Arial, sans-serif' font-size="31" font-weight="bold" fill="#141414" text-anchor="start" stroke="#141414" stroke-width="0.7" stroke-linejoin="round" textLength="103.9" lengthAdjust="spacingAndGlyphs">Day 26</text>
<line x1="1359.6" y1="2140.3" x2="1630.8" y2="2140.3" stroke="#0d0d0d" stroke-width="4.2"/>
<text x="1438.5" y="2183.4" font-family='"Liberation Sans", Arial, sans-serif' font-size="34" font-weight="bold" fill="#141414" text-anchor="start" stroke="#141414" stroke-width="0.7" stroke-linejoin="round" textLength="101.3" lengthAdjust="spacingAndGlyphs">PQ-25</text>
<g transform="translate(331,1597.5)">
<rect x="3.5" y="-29.5" width="49.2" height="26" rx="0.5" fill="url(#pMs)" stroke="#0d0d0d" stroke-width="7.0" stroke-linejoin="round"/>
</g>
<g transform="translate(331,1651.3)">
<rect x="3.5" y="-28.9" width="49.2" height="25.4" rx="0.5" fill="url(#pLs)" stroke="#0d0d0d" stroke-width="7.0" stroke-linejoin="round"/>
</g>
<g transform="translate(331,1704.5)">
<rect x="3.5" y="-29" width="49.2" height="25.5" rx="0.5" fill="url(#lgN)" stroke="#0d0d0d" stroke-width="7.0" stroke-linejoin="round"/>
</g>
</g>
</g>
<g filter="url(#soft2)">
<text x="684.6" y="336.6" font-family='"Liberation Serif", "Noto Serif CJK SC", serif' font-size="41" font-weight="normal" fill="#0c0c0c" text-anchor="middle">b</text>
<text x="739.1" y="538.2" font-family='"Liberation Serif", "Noto Serif CJK SC", serif' font-size="41" font-weight="normal" fill="#0c0c0c" text-anchor="middle">b</text>
<text x="789.6" y="549.3" font-family='"Liberation Serif", "Noto Serif CJK SC", serif' font-size="41" font-weight="normal" fill="#0c0c0c" text-anchor="middle">b</text>
<text x="1027.6" y="108.3" font-family='"Liberation Serif", "Noto Serif CJK SC", serif' font-size="41" font-weight="normal" fill="#0c0c0c" text-anchor="middle">b</text>
<text x="1079.1" y="563.5" font-family='"Liberation Serif", "Noto Serif CJK SC", serif' font-size="41" font-weight="normal" fill="#0c0c0c" text-anchor="middle">b</text>
<text x="1121.6" y="535.7" font-family='"Liberation Serif", "Noto Serif CJK SC", serif' font-size="41" font-weight="normal" fill="#0c0c0c" text-anchor="middle">b</text>
<text x="1180.3" y="443.2" font-family='"Liberation Serif", "Noto Serif CJK SC", serif' font-size="41" font-weight="normal" fill="#0c0c0c" text-anchor="middle">b</text>
<text x="1363.6" y="206.2" font-family='"Liberation Serif", "Noto Serif CJK SC", serif' font-size="41" font-weight="normal" fill="#0c0c0c" text-anchor="middle">b</text>
<text x="1417.8" y="495.5" font-family='"Liberation Serif", "Noto Serif CJK SC", serif' font-size="41" font-weight="normal" fill="#0c0c0c" text-anchor="middle">b</text>
<text x="1467.5" y="522" font-family='"Liberation Serif", "Noto Serif CJK SC", serif' font-size="41" font-weight="normal" fill="#0c0c0c" text-anchor="middle">b</text>
<text x="1575.9" y="571" font-family='"Liberation Serif", "Noto Serif CJK SC", serif' font-size="41" font-weight="normal" fill="#0c0c0c" text-anchor="middle">b</text>
<text x="400.4" y="116.6" font-family='"Liberation Serif", "Noto Serif CJK SC", serif' font-size="41.4" font-weight="600" fill="#0a0a0a" text-anchor="start" letter-spacing="1.1">巨噬细胞</text>
<text x="400.4" y="173.6" font-family='"Liberation Serif", "Noto Serif CJK SC", serif' font-size="41.4" font-weight="600" fill="#0a0a0a" text-anchor="start" letter-spacing="1.1">淋巴细胞</text>
<text x="400.4" y="228.4" font-family='"Liberation Serif", "Noto Serif CJK SC", serif' font-size="41.4" font-weight="600" fill="#0a0a0a" text-anchor="start" letter-spacing="1.1">中性粒细胞</text>
<text x="404.4" y="852.5" font-family='"Liberation Serif", "Noto Serif CJK SC", serif' font-size="41.4" font-weight="600" fill="#0a0a0a" text-anchor="start" letter-spacing="1.1">巨噬细胞</text>
<text x="404.4" y="910.2" font-family='"Liberation Serif", "Noto Serif CJK SC", serif' font-size="41.4" font-weight="600" fill="#0a0a0a" text-anchor="start" letter-spacing="1.1">淋巴细胞</text>
<text x="404.4" y="964.3" font-family='"Liberation Serif", "Noto Serif CJK SC", serif' font-size="41.4" font-weight="600" fill="#0a0a0a" text-anchor="start" letter-spacing="1.1">中性粒细胞</text>
<text x="690.1" y="1923.2" font-family='"Liberation Serif", "Noto Serif CJK SC", serif' font-size="41" font-weight="normal" fill="#0c0c0c" text-anchor="middle">b</text>
<text x="788.9" y="2029.8" font-family='"Liberation Serif", "Noto Serif CJK SC", serif' font-size="44" font-weight="normal" fill="#0c0c0c" text-anchor="middle">a</text>
<text x="1027.1" y="1882.4" font-family='"Liberation Serif", "Noto Serif CJK SC", serif' font-size="41" font-weight="normal" fill="#0c0c0c" text-anchor="middle">b</text>
<text x="1130.1" y="2020.4" font-family='"Liberation Serif", "Noto Serif CJK SC", serif' font-size="41" font-weight="normal" fill="#0c0c0c" text-anchor="middle">b</text>
<text x="1176.3" y="1934.3" font-family='"Liberation Serif", "Noto Serif CJK SC", serif' font-size="41" font-weight="normal" fill="#0c0c0c" text-anchor="middle">b</text>
<text x="1230" y="2034.5" font-family='"Liberation Serif", "Noto Serif CJK SC", serif' font-size="44" font-weight="normal" fill="#0c0c0c" text-anchor="middle">a</text>
<text x="1364.6" y="1725.6" font-family='"Liberation Serif", "Noto Serif CJK SC", serif' font-size="41" font-weight="normal" fill="#0c0c0c" text-anchor="middle">b</text>
<text x="1417.6" y="2027.9" font-family='"Liberation Serif", "Noto Serif CJK SC", serif' font-size="41" font-weight="normal" fill="#0c0c0c" text-anchor="middle">b</text>
<text x="1465.6" y="2015.7" font-family='"Liberation Serif", "Noto Serif CJK SC", serif' font-size="41" font-weight="normal" fill="#0c0c0c" text-anchor="middle">b</text>
<text x="1512.2" y="1895.8" font-family='"Liberation Serif", "Noto Serif CJK SC", serif' font-size="41" font-weight="normal" fill="#0c0c0c" text-anchor="middle">b</text>
<text x="1566.4" y="2015.7" font-family='"Liberation Serif", "Noto Serif CJK SC", serif' font-size="41" font-weight="normal" fill="#0c0c0c" text-anchor="middle">b</text>
<text x="402.4" y="1598" font-family='"Liberation Serif", "Noto Serif CJK SC", serif' font-size="41.4" font-weight="600" fill="#0a0a0a" text-anchor="start" letter-spacing="1.1">巨噬细胞</text>
<text x="402.4" y="1656" font-family='"Liberation Serif", "Noto Serif CJK SC", serif' font-size="41.4" font-weight="600" fill="#0a0a0a" text-anchor="start" letter-spacing="1.1">淋巴细胞</text>
<text x="402.4" y="1710" font-family='"Liberation Serif", "Noto Serif CJK SC", serif' font-size="41.4" font-weight="600" fill="#0a0a0a" text-anchor="start" letter-spacing="1.1">中性粒细胞</text>
</g>
</svg>
</body>
</html>
